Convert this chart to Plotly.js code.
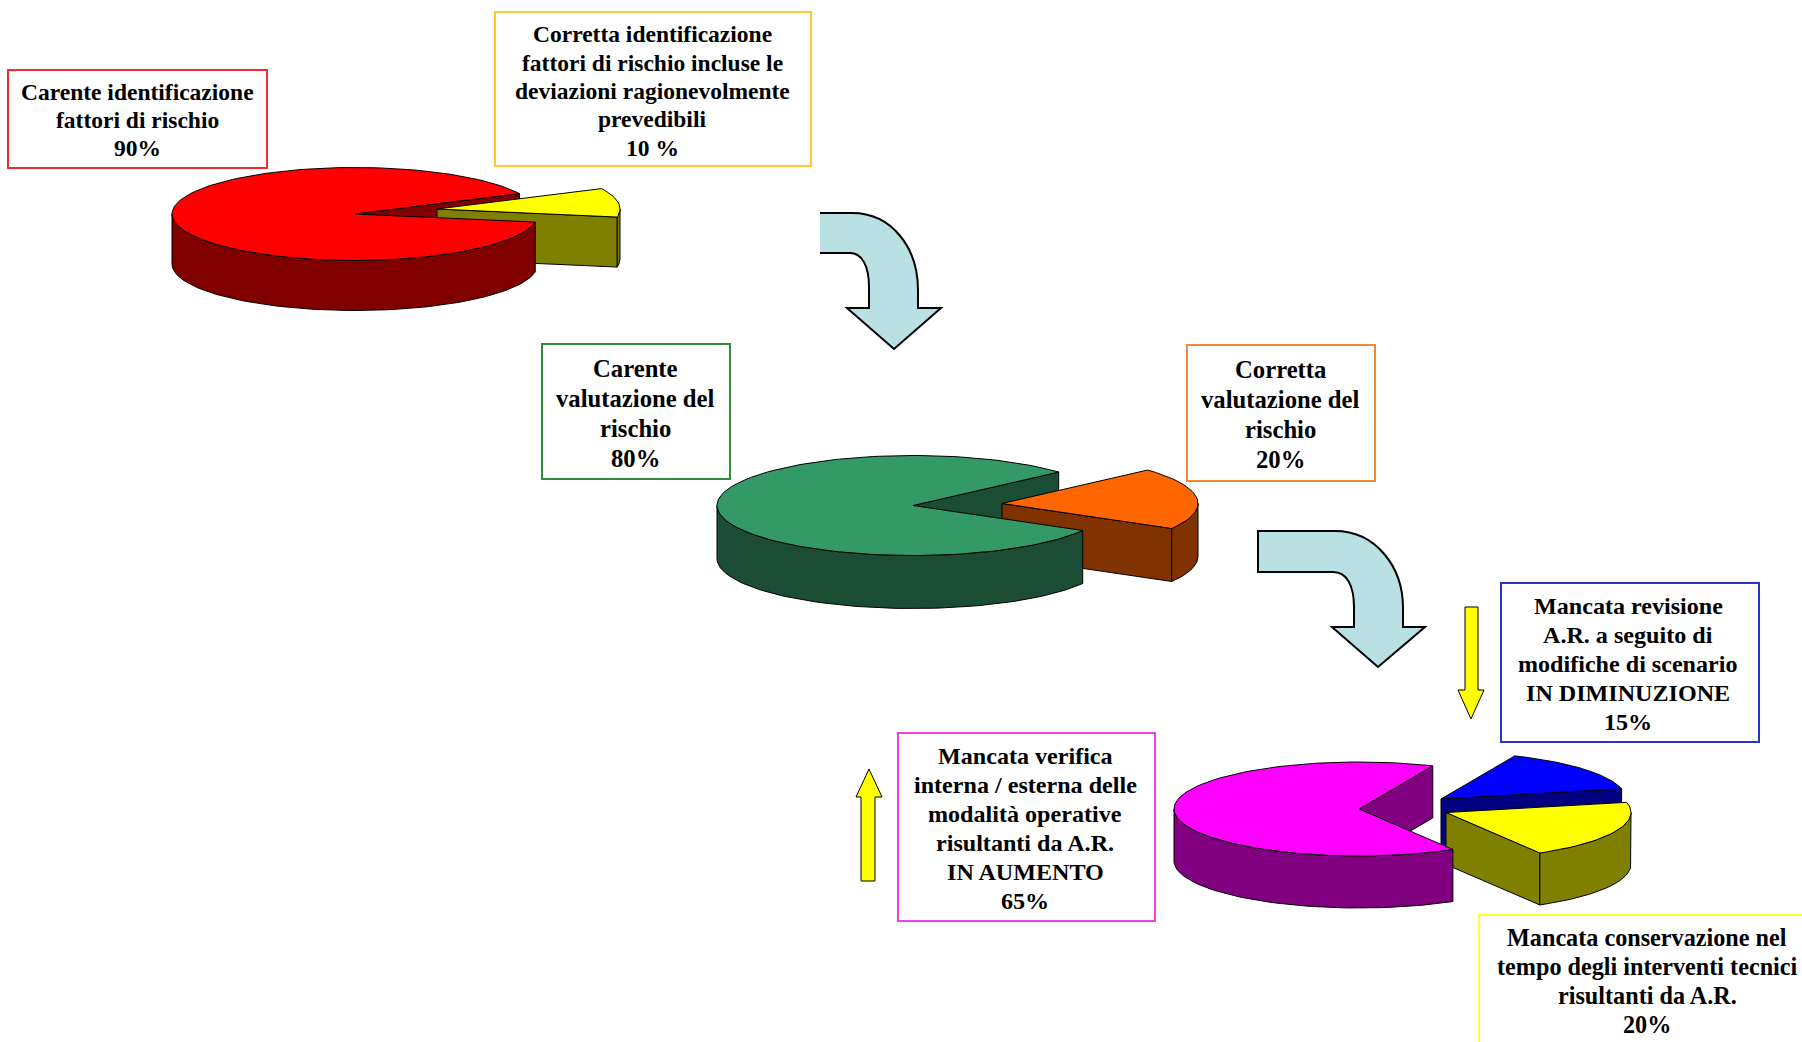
<!DOCTYPE html>
<html>
<head>
<meta charset="utf-8">
<script src="https://cdn.plot.ly/plotly-3.0.1.min.js"></script>
<style>html,body{margin:0;padding:0;background:#fff}#chart{width:1802px;height:1042px}</style>
</head>
<body>
<div id="chart"></div>
<script>
// Data
var identificationShares = [90, 10];
var valuationShares = [80, 20];
var reviewShares = [65, 20, 15];

var identificationLabels = ["Carente identificazione<br>fattori di rischio<br>90%",
  "Corretta identificazione<br>fattori di rischio incluse le<br>deviazioni ragionevolmente<br>prevedibili<br>10 %"];
var valuationLabels = ["Carente<br>valutazione del<br>rischio<br>80%",
  "Corretta<br>valutazione del<br>rischio<br>20%"];
var reviewLabels = ["Mancata verifica<br>interna / esterna delle<br>modalità operative<br>risultanti da A.R.<br>IN AUMENTO<br>65%",
  "Mancata conservazione nel<br>tempo degli interventi tecnici<br>risultanti da A.R.<br>20%",
  "Mancata revisione<br>A.R. a seguito di<br>modifiche di scenario<br>IN DIMINUZIONE<br>15%"];

var identificationColors = [["#FF0000", "#800000"], ["#FFFF00", "#808000"]];
var valuationColors = [["#339966", "#1A4D33"], ["#FF6600", "#803300"]];
var reviewColors = [["#FF00FF", "#800080"], ["#FFFF00", "#808000"], ["#0000FF", "#000080"]];

// Drawing configuration
var pies = [
  {shares: identificationShares, colors: identificationColors, cx: 355, cy: 214, rx: 183, ry: 46.5, depth: 50, start: 26,
   offsets: [[0, 0], [82, -5]]},
  {shares: valuationShares, colors: valuationColors, cx: 913, cy: 505.5, rx: 196, ry: 50, depth: 53, start: 42,
   offsets: [[0, 0], [89, -2]]},
  {shares: reviewShares, colors: reviewColors, cx: 1359, cy: 809, rx: 185, ry: 47, depth: 52, start: 66.5,
   offsets: [[0, 0], [87, 3.5], [82, -10]]}
];
var boxes = [
  {x: [8, 267], y: [70, 168], c: "#F02B35", tx: 137.5, ty: 120, text: identificationLabels[0], size: 23.5, pitch: 28.3},
  {x: [495, 811], y: [12, 166], c: "#FFC92B", tx: 652, ty: 91, text: identificationLabels[1], size: 23.5, pitch: 28.3},
  {x: [542, 730], y: [344, 479], c: "#2E8B3A", tx: 635, ty: 413, text: valuationLabels[0], size: 24.7, pitch: 30},
  {x: [1187, 1375], y: [345, 481], c: "#F0883E", tx: 1280, ty: 414, text: valuationLabels[1], size: 24.7, pitch: 30},
  {x: [898, 1155], y: [733, 921], c: "#F040E0", tx: 1025, ty: 828, text: reviewLabels[0], size: 24.1, pitch: 29},
  {x: [1479, 1830], y: [915, 1070], c: "#FFFF33", tx: 1647, ty: 981, text: reviewLabels[1], size: 24.2, pitch: 28.8},
  {x: [1501, 1759], y: [583, 742], c: "#2A35C8", tx: 1628, ty: 664, text: reviewLabels[2], size: 24.1, pitch: 29}
];
var traces = [];

function rad(d) { return d * Math.PI / 180; }
function pt(p, off, t, drop) {
  return [p.cx + off[0] + p.rx * Math.cos(rad(t)), p.cy + off[1] - p.ry * Math.sin(rad(t)) + (drop || 0)];
}
function poly(points, fill) {
  traces.push({type: "scatter", mode: "lines", x: points.map(function (q) { return q[0]; }), y: points.map(function (q) { return q[1]; }),
    fill: "toself", fillcolor: fill, line: {color: "#000", width: 1}, hoverinfo: "skip", showlegend: false});
}
function arcPts(p, off, a, b, drop) {
  var out = [], n = Math.max(2, Math.ceil(Math.abs(b - a) / 2));
  for (var i = 0; i <= n; i++) out.push(pt(p, off, a + (b - a) * i / n, drop));
  return out;
}
function cutWall(p, s) {
  var o = s.off, apex = [p.cx + o[0], p.cy + o[1]], c = pt(p, o, s.t0);
  poly([apex, c, [c[0], c[1] + p.depth], [apex[0], apex[1] + p.depth], apex], s.dark);
}
function outerWall(p, s) {
  // visible lower half of the rim: angles 180..360
  var ranges = [[-180, 0], [180, 360], [540, 720]];
  ranges.forEach(function (r) {
    var a = Math.max(s.t0, r[0]), b = Math.min(s.t1, r[1]);
    if (b > a) {
      var top = arcPts(p, s.off, a, b, 0), bot = arcPts(p, s.off, b, a, p.depth);
      poly(top.concat(bot, [top[0]]), s.dark);
    }
  });
}
function topFace(p, s) {
  var apex = [p.cx + s.off[0], p.cy + s.off[1]];
  poly([apex].concat(arcPts(p, s.off, s.t0, s.t1, 0), [apex]), s.light);
}
pies.forEach(function (p) {
  var t = p.start, total = p.shares.reduce(function (a, b) { return a + b; }, 0);
  var slices = p.shares.map(function (v, i) {
    var span = v / total * 360;
    var s = {t0: t, t1: t + span, off: p.offsets[i], light: p.colors[i][0], dark: p.colors[i][1]};
    t += span;
    return s;
  });
  var main = slices[0];
  cutWall(p, main);
  slices.slice(1).reverse().forEach(function (s) {
    cutWall(p, s); outerWall(p, s); topFace(p, s);
  });
  outerWall(p, main);
  topFace(p, main);
});

var shapes = boxes.map(function (b) {
  return {type: "rect", xref: "x", yref: "y", x0: b.x[0], x1: b.x[1], y0: b.y[0], y1: b.y[1], line: {color: b.c, width: 2}, fillcolor: "rgba(0,0,0,0)", layer: "below"};
});
function pathShape(d, fill, lw) {
  shapes.push({type: "path", xref: "x", yref: "y", path: d, fillcolor: fill, line: {color: "#000", width: lw}, layer: "above"});
}
var arrowFill = "#B9E0E3";
// first curved arrow: the fill is closed, its left end has no outline
shapes.push({type: "path", xref: "x", yref: "y", path: "M820,213 L852,213 C892,213 918,248 918,290 L918,308 L941,308 L894,349 L847,308 L869,308 L869,287 C869,266 862,253 850,253 L820,253 Z", fillcolor: arrowFill, line: {width: 0}, layer: "above"});
pathShape("M820,213 L852,213 C892,213 918,248 918,290 L918,308 L941,308 L894,349 L847,308 L869,308 L869,287 C869,266 862,253 850,253 L820,253", "rgba(0,0,0,0)", 2);
pathShape("M1258,531 L1335,531 C1375,531 1403,566 1403,608 L1403,627 L1425,627 L1378,667 L1332,627 L1354,627 L1354,607 C1354,586 1347,572 1333,572 L1258,572 Z", arrowFill, 2);
pathShape("M1465,607 L1478,607 L1478,690 L1484,690 L1471,719 L1458,690 L1465,690 Z", "#FFFF00", 1);
pathShape("M861,881 L875,881 L875,797 L882,797 L869,769 L856,797 L861,797 Z", "#FFFF00", 1);

var annotations = [];
boxes.forEach(function (b) {
  var lines = b.text.split("<br>");
  lines.forEach(function (line, i) {
    annotations.push({xref: "x", yref: "y", x: b.tx, y: b.ty + (i - (lines.length - 1) / 2) * b.pitch, text: line, showarrow: false,
      xanchor: "center", yanchor: "middle", align: "center",
      font: {family: "'Liberation Serif', 'Times New Roman', serif", size: b.size, color: "#000", weight: 700}});
  });
});

Plotly.newPlot("chart", traces, {
  width: 1802, height: 1042, margin: {l: 0, r: 0, t: 0, b: 0}, paper_bgcolor: "#fff", plot_bgcolor: "#fff", showlegend: false,
  xaxis: {range: [0, 1802], visible: false, fixedrange: true},
  yaxis: {range: [1042, 0], visible: false, fixedrange: true},
  shapes: shapes, annotations: annotations
}, {displayModeBar: false, staticPlot: true});
</script>
</body>
</html>
